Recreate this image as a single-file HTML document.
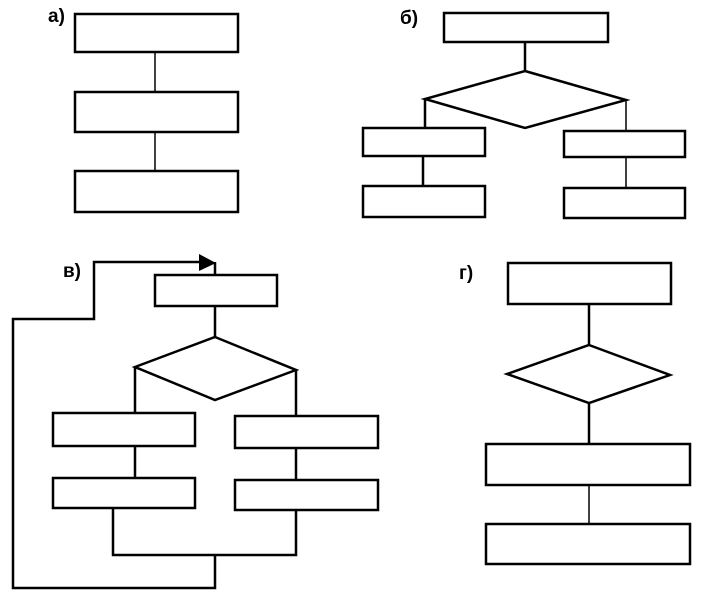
<!DOCTYPE html>
<html><head><meta charset="utf-8"><style>
html,body{margin:0;padding:0;background:#fff;width:706px;height:600px;overflow:hidden}
svg{display:block}
text{font-family:"Liberation Sans","DejaVu Sans",sans-serif;font-weight:bold;font-size:19px;fill:#000}
</style></head><body>
<svg width="706" height="600" viewBox="0 0 706 600" xmlns="http://www.w3.org/2000/svg">
<g fill="none" stroke="#000" stroke-width="2.5">
<!-- a -->
<rect x="75" y="14" width="163" height="38"/>
<rect x="75" y="92" width="163" height="40"/>
<rect x="75" y="171" width="163" height="41"/>
<line x1="155" y1="52" x2="155" y2="92" stroke-width="1.5"/>
<line x1="155" y1="132" x2="155" y2="171" stroke-width="1.5"/>
<!-- b -->
<rect x="444" y="13" width="164" height="29"/>
<line x1="525" y1="42" x2="525" y2="71"/>
<polygon points="525,71 626,100 525,128 425,99"/>
<line x1="425" y1="99" x2="425" y2="128"/>
<line x1="626" y1="100" x2="626" y2="131" stroke-width="1.5"/>
<rect x="363" y="128" width="122" height="28"/>
<rect x="363" y="186" width="122" height="31"/>
<line x1="423" y1="156" x2="423" y2="186"/>
<rect x="564" y="131" width="121" height="26"/>
<rect x="564" y="188" width="121" height="30"/>
<line x1="626" y1="157" x2="626" y2="188" stroke-width="1.5"/>
<!-- v -->
<rect x="155" y="275" width="122" height="31"/>
<line x1="215" y1="306" x2="215" y2="337"/>
<polygon points="215,337 296,370 215,400 135,367"/>
<line x1="135" y1="367" x2="135" y2="413"/>
<line x1="296" y1="370" x2="296" y2="416"/>
<rect x="53" y="413" width="142" height="33"/>
<rect x="53" y="478" width="142" height="30"/>
<line x1="135" y1="446" x2="135" y2="478"/>
<rect x="235" y="416" width="143" height="32"/>
<rect x="235" y="480" width="143" height="30"/>
<line x1="296" y1="448" x2="296" y2="480"/>
<polyline points="113,508 113,555 296,555 296,510"/>
<polyline points="215,555 215,588 13,588 13,319 94,319 94,262 200,262"/>
<line x1="215" y1="262" x2="215" y2="275"/>
<!-- g -->
<rect x="508" y="263" width="163" height="41"/>
<line x1="589" y1="304" x2="589" y2="345"/>
<polygon points="589,345 670,375 589,403 507,374"/>
<line x1="589" y1="403" x2="589" y2="444"/>
<rect x="486" y="444" width="204" height="41"/>
<line x1="589" y1="485" x2="589" y2="524" stroke-width="1.5"/>
<rect x="486" y="524" width="204" height="40"/>
</g>
<polygon points="199,254 216,263 199,271" fill="#000"/>
<text x="48" y="22">a)</text>
<text x="400" y="24">б)</text>
<text x="63" y="277">в)</text>
<text x="459" y="279">г)</text>
</svg>
</body></html>
